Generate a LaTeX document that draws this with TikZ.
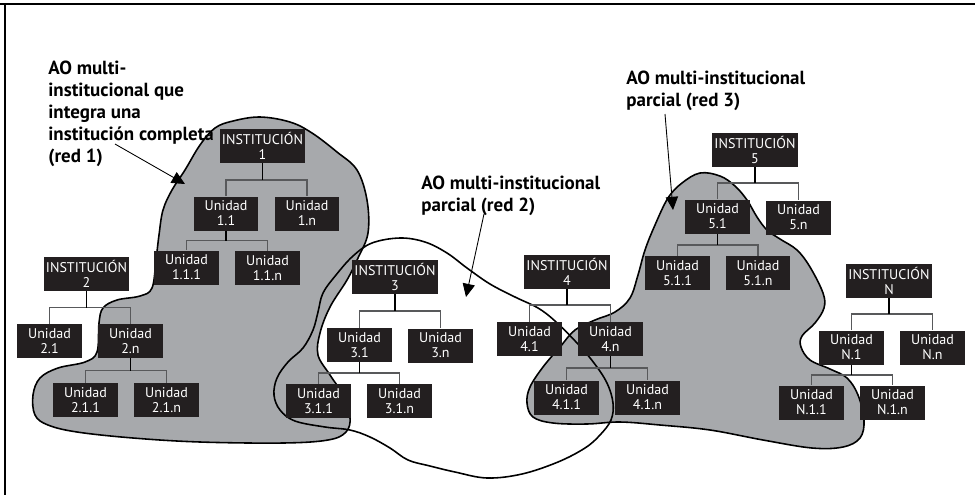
\documentclass[tikz,border=0pt]{standalone}
\usepackage{fontspec}
\setmainfont{PT Sans}
\usetikzlibrary{calc,arrows.meta}

\definecolor{boxfill}{RGB}{35,31,32}
\definecolor{blobgray}{RGB}{167,169,172}
\definecolor{bargray}{RGB}{88,89,91}

\tikzset{
  inst/.style={fill=boxfill, text=white, minimum width=1.72cm, minimum height=0.68cm,
    inner sep=0pt, align=center, font=\fontsize{8}{8.5}\selectfont},
  unit/.style={inst, minimum width=1.3cm},
  note/.style={anchor=north west, inner sep=0pt, align=left,
    font=\bfseries\fontsize{10.8}{12.5}\selectfont},
  stem/.style={draw=black, line width=1.1pt},
  bar/.style={draw=bargray, line width=0.9pt},
  blob/.style={draw=black, line width=0.9pt, fill=blobgray},
  loop/.style={draw=black, line width=0.9pt},
  pointer/.style={draw=black, line width=0.5pt, -{Triangle[length=7.5pt,width=7pt]}},
}

% parent stem, cross bar and drops to two children
\newcommand\orgtree[3]{%
  \coordinate (mid) at ($(#1.south)!.5!(#2.north)$);
  \draw[bar] (#2.north) |- (#1.south |- mid) -| (#3.north);
  \draw[stem] (#1.south) -- (#1.south |- mid);
}

\begin{document}
\begin{tikzpicture}[x=0.02cm, y=-0.02cm]
\useasboundingbox (0,0) rectangle (975,495);

% frame edges
\draw[line width=1.5pt] (0,4) -- (975,4);
\draw[line width=0.8pt] (5,4) -- (5,495);

% red 1
\draw[blob] plot[smooth cycle, tension=0.6] coordinates {
  (233,121) (260,117) (290,122) (312,133) (337,152) (357,170) (367,200)
  (368,233) (358,258) (347,280) (330,307) (320,333) (318,355) (330,375)
  (343,395) (350,417) (346,432) (328,440) (283,443) (200,442) (133,438)
  (77,432) (48,425) (35,415) (33,395) (40,378) (58,368) (85,362) (97,352)
  (99,323) (103,308) (117,300) (140,296) (152,288) (156,260) (159,235)
  (163,210) (172,190) (185,170) (200,145) (215,128)};

% red 3
\draw[blob] plot[smooth cycle, tension=0.6] coordinates {
  (700,173) (720,176) (735,186) (747,200) (757,217) (767,230) (780,239)
  (797,250) (810,267) (823,293) (824,308) (815,323) (802,336) (801,347)
  (810,360) (830,369) (847,378) (858,395) (864,420) (860,438) (843,447)
  (812,448) (763,440) (710,430) (660,425) (620,422) (587,424) (553,423)
  (533,417) (527,403) (530,387) (543,367) (560,347) (575,330) (595,320)
  (615,312) (630,298) (638,275) (645,250) (655,225) (668,198) (682,183)};

% red 2
\draw[loop] plot[smooth cycle, tension=0.6] coordinates {
  (400,238) (425,242) (447,253) (467,268) (490,284) (515,297) (538,308)
  (555,321) (577,343) (594,363) (607,383) (613,403) (611,420) (600,435)
  (585,448) (558,462) (522,474) (487,478) (455,472) (430,466) (408,460)
  (390,448) (370,437) (350,430) (325,427) (295,421) (280,410) (274,395)
  (277,378) (288,362) (303,348) (313,330) (318,312) (323,293) (336,275)
  (353,256) (372,243)};

% institution 1
\node[inst] (i1)   at (262.5,146)   {INSTITUCIÓN\\1};
\node[unit] (u11)  at (226,213.5)   {Unidad\\1.1};
\node[unit] (u1n)  at (307,213.5)   {Unidad\\1.n};
\node[unit] (u111) at (186.5,267.5) {Unidad\\1.1.1};
\node[unit] (u11n) at (267.5,268)   {Unidad\\1.1.n};
% institution 2
\node[inst] (i2)   at (86.5,274)  {INSTITUCIÓN\\2};
\node[unit] (u21)  at (49.5,341)  {Unidad\\2.1};
\node[unit] (u2n)  at (130.5,341) {Unidad\\2.n};
\node[unit] (u211) at (85.5,400)  {Unidad\\2.1.1};
\node[unit] (u21n) at (166.5,400) {Unidad\\2.1.n};
% institution 3
\node[inst] (i3)   at (395,277)    {INSTITUCIÓN\\3};
\node[unit] (u31)  at (359.5,345)  {Unidad\\3.1};
\node[unit] (u3n)  at (440.5,345.5){Unidad\\3.n};
\node[unit] (u311) at (318.5,401)  {Unidad\\3.1.1};
\node[unit] (u31n) at (399.5,401)  {Unidad\\3.1.n};
% institution 4
\node[inst] (i4)   at (567,271.5)   {INSTITUCIÓN\\4};
\node[unit] (u41)  at (529.5,339)   {Unidad\\4.1};
\node[unit] (u4n)  at (610.5,339)   {Unidad\\4.n};
\node[unit] (u411) at (566.5,397.5) {Unidad\\4.1.1};
\node[unit] (u41n) at (647.5,397.5) {Unidad\\4.1.n};
% institution 5
\node[inst] (i5)   at (755,150)     {INSTITUCIÓN\\5};
\node[unit] (u51)  at (717.5,216.5) {Unidad\\5.1};
\node[unit] (u5n)  at (798.5,217.5) {Unidad\\5.n};
\node[unit] (u511) at (677.5,273)   {Unidad\\5.1.1};
\node[unit] (u51n) at (758,273)     {Unidad\\5.1.n};
% institution N
\node[inst] (iN)   at (889,281)     {INSTITUCIÓN\\N};
\node[unit] (uN1)  at (851.5,347.5) {Unidad\\N.1};
\node[unit] (uNn)  at (932.5,347.5) {Unidad\\N.n};
\node[unit] (uN11) at (811.5,402.5) {Unidad\\N.1.1};
\node[unit] (uN1n) at (892.5,402.5) {Unidad\\N.1.n};

% hierarchy links
\orgtree{i1}{u11}{u1n}   \orgtree{u11}{u111}{u11n}
\orgtree{i2}{u21}{u2n}   \orgtree{u2n}{u211}{u21n}
\orgtree{i3}{u31}{u3n}   \orgtree{u31}{u311}{u31n}
\orgtree{i4}{u41}{u4n}   \orgtree{u4n}{u411}{u41n}
\orgtree{i5}{u51}{u5n}   \orgtree{u51}{u511}{u51n}
\orgtree{iN}{uN1}{uNn}   \orgtree{uN1}{uN11}{uN1n}

% annotations
\node[note] (n1) at (48,61) {AO multi-\\institucional que\\integra una\\institución completa\\(red 1)};
\node[note] (n2) at (421,176) {AO multi-institucional\\parcial (red 2)};
\node[note] (n3) at (626,71) {AO multi-institucional\\parcial (red 3)};

\coordinate (p1s) at (115,144); \coordinate (p1e) at (185,184);
\coordinate (p2s) at (484,214); \coordinate (p2e) at (466,297);
\coordinate (p3s) at (665,114); \coordinate (p3e) at (673,210);
\draw[pointer] (p1s) -- (p1e);
\draw[pointer] (p2s) -- (p2e);
\draw[pointer] (p3s) -- (p3e);
\end{tikzpicture}
\end{document}
